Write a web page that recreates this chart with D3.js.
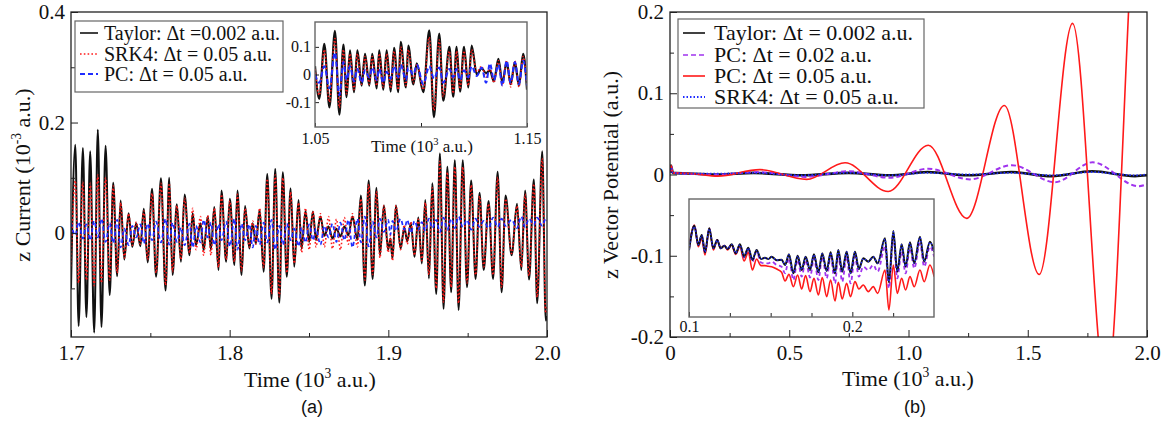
<!DOCTYPE html>
<html>
<head>
<meta charset="utf-8">
<script src="https://cdn.jsdelivr.net/npm/d3@7"></script>
<style>
  body { margin: 0; background: #fff; }
  svg { display: block; }
  text { font-family: "Liberation Serif", "DejaVu Serif", serif; fill: #111; }
  .panel-label { font-family: "Liberation Sans", Arial, sans-serif; }
</style>
</head>
<body>
<div id="chart"></div>
<script>
// ---- (a) z current, 1.7 - 2.0 (10^3 a.u.) ----
const aTime = [
  1.7000,1.7027,1.7048,1.7075,1.7097,1.7121,1.7146,1.7169,1.7192,1.7218,
  1.7244,1.7266,1.7291,1.7313,1.7336,1.7363,1.7386,1.7411,1.7437,1.7459,
  1.7483,1.7511,1.7536,1.7567,1.7596,1.7619,1.7640,1.7667,1.7693,1.7716,
  1.7747,1.7767,1.7788,1.7816,1.7836,1.7862,1.7882,1.7903,1.7930,1.7948,
  1.7978,1.8001,1.8030,1.8049,1.8075,1.8097,1.8124,1.8145,1.8165,1.8189,
  1.8214,1.8237,1.8264,1.8287,1.8313,1.8335,1.8360,1.8384,1.8407,1.8434,
  1.8453,1.8478,1.8501,1.8525,1.8544,1.8572,1.8597,1.8623,1.8648,1.8673,
  1.8698,1.8723,1.8748,1.8774,1.8805,1.8827,1.8852,1.8876,1.8901,1.8925,
  1.8947,1.8972,1.8999,1.9013,1.9026,1.9048,1.9077,1.9101,1.9119,1.9142,
  1.9165,1.9189,1.9211,1.9233,1.9256,1.9277,1.9302,1.9325,1.9348,1.9372,
  1.9396,1.9419,1.9443,1.9469,1.9496,1.9522,1.9550,1.9575,1.9601,1.9632,
  1.9660,1.9689,1.9714,1.9739,1.9777,1.9811,1.9838,1.9862,1.9887,1.9917,
  1.9938,1.9970,1.9992,2.0000
];
const aTaylor = [
  -0.100,0.160,-0.168,0.154,-0.152,0.148,-0.180,0.187,-0.170,0.158,
  -0.112,0.091,-0.078,0.059,-0.048,0.036,-0.025,0.018,-0.024,0.044,
  -0.053,0.080,-0.079,0.099,-0.104,0.100,-0.076,0.052,-0.052,0.070,
  -0.040,0.036,-0.022,0.018,-0.031,0.030,-0.030,0.047,-0.067,0.077,
  -0.052,0.062,-0.058,0.077,-0.076,0.049,-0.028,0.018,-0.019,0.042,
  -0.070,0.107,-0.119,0.116,-0.126,0.110,-0.079,0.081,-0.061,0.060,
  -0.028,0.040,-0.016,0.039,-0.013,0.030,-0.005,0.012,-0.010,0.008,
  -0.006,0.012,-0.004,0.030,-0.012,0.068,-0.095,0.095,-0.083,0.082,
  -0.040,0.050,-0.030,-0.010,-0.046,0.050,-0.028,0.010,-0.015,0.018,
  -0.043,0.028,-0.055,0.060,-0.082,0.090,-0.110,0.144,-0.137,0.120,
  -0.107,0.132,-0.139,0.132,-0.098,0.095,-0.083,0.073,-0.067,0.058,
  -0.083,0.111,-0.107,0.068,-0.040,0.053,-0.067,0.077,-0.084,0.097,
  -0.127,0.148,-0.158,-0.150
];
const aSRK4 = [
  -0.060,0.095,-0.090,0.092,-0.085,0.090,-0.095,0.105,-0.090,0.100,
  -0.085,0.085,-0.072,0.055,-0.045,0.035,-0.022,0.020,-0.020,0.040,
  -0.048,0.072,-0.072,0.090,-0.094,0.090,-0.070,0.050,-0.048,0.063,
  -0.036,0.045,-0.030,0.030,-0.040,0.032,-0.040,0.045,-0.062,0.070,
  -0.048,0.058,-0.052,0.070,-0.068,0.045,-0.025,0.022,-0.020,0.045,
  -0.062,0.098,-0.110,0.105,-0.115,0.100,-0.072,0.074,-0.055,0.055,
  -0.035,0.045,-0.030,0.040,-0.025,0.035,-0.025,0.030,-0.028,0.025,
  -0.030,0.028,-0.020,0.035,-0.025,0.062,-0.085,0.088,-0.075,0.075,
  -0.045,0.050,-0.035,-0.005,-0.050,0.050,-0.030,0.015,-0.020,0.020,
  -0.040,0.025,-0.050,0.055,-0.075,0.082,-0.100,0.130,-0.125,0.110,
  -0.098,0.120,-0.127,0.120,-0.090,0.087,-0.076,0.067,-0.061,0.053,
  -0.076,0.101,-0.098,0.062,-0.037,0.049,-0.061,0.070,-0.077,0.089,
  -0.116,0.135,-0.145,-0.130
];
const aPC = [
  0.018,-0.004,0.020,-0.010,0.016,-0.013,0.022,-0.008,0.026,-0.016,
  0.018,-0.018,0.024,-0.026,0.008,-0.022,0.013,-0.008,0.016,-0.019,
  0.017,-0.013,0.021,-0.017,0.026,-0.021,0.019,-0.016,0.010,-0.022,
  0.017,-0.026,0.013,-0.017,0.024,-0.008,0.019,-0.022,0.016,-0.013,
  0.021,-0.024,0.026,-0.030,0.017,-0.013,0.016,-0.026,0.013,-0.021,
  0.019,-0.017,0.024,-0.030,0.013,-0.021,0.017,-0.013,0.008,-0.024,
  0.010,-0.017,0.016,-0.013,0.008,-0.021,0.013,-0.008,0.017,-0.016,
  0.019,-0.013,0.024,-0.026,0.026,-0.017,0.030,-0.024,0.021,-0.008,
  0.026,0.002,0.024,-0.003,0.022,0.004,0.026,0.006,0.024,0.000,
  0.022,0.006,0.020,0.004,0.026,0.009,0.024,0.002,0.028,0.006,
  0.026,0.009,0.030,0.011,0.024,0.006,0.026,0.011,0.022,0.009,
  0.028,0.011,0.026,0.013,0.024,0.009,0.030,0.011,0.026,0.015,
  0.028,0.013,0.026,0.022
];

// inset of (a): 1.05 - 1.15
const aiTime = [
  1.0500,1.0520,1.0544,1.0568,1.0594,1.0615,1.0634,1.0649,1.0665,1.0684,
  1.0700,1.0720,1.0736,1.0756,1.0770,1.0791,1.0803,1.0822,1.0838,1.0857,
  1.0873,1.0893,1.0904,1.0929,1.0940,1.0964,1.0980,1.1011,1.1039,1.1061,
  1.1086,1.1105,1.1134,1.1152,1.1168,1.1184,1.1203,1.1223,1.1239,1.1263,
  1.1286,1.1307,1.1325,1.1344,1.1365,1.1384,1.1404,1.1423,1.1443,1.1462,
  1.1482,1.1500
];
const aiTaylor = [
  0.030,-0.088,0.111,-0.119,0.158,-0.145,0.108,-0.082,0.087,-0.064,
  0.087,-0.040,0.075,-0.040,0.075,-0.050,0.087,-0.055,0.087,-0.062,
  0.096,-0.064,0.118,-0.047,0.105,-0.036,0.040,-0.064,0.160,-0.155,
  0.148,-0.095,0.100,-0.080,0.100,-0.062,0.100,-0.047,0.105,0.000,
  0.022,0.005,0.015,-0.025,0.057,-0.030,0.045,-0.035,0.045,-0.040,
  0.075,-0.055
];
const aiSRK4 = [
  0.020,-0.075,0.090,-0.100,0.130,-0.120,0.090,-0.070,0.075,-0.055,
  0.075,-0.035,0.065,-0.035,0.065,-0.040,0.075,-0.045,0.075,-0.050,
  0.085,-0.055,0.100,-0.040,0.090,-0.030,0.035,-0.055,0.135,-0.130,
  0.125,-0.080,0.085,-0.068,0.085,-0.052,0.085,-0.040,0.090,0.010,
  0.030,-0.010,0.025,-0.030,0.050,-0.040,0.050,-0.045,0.050,-0.045,
  0.065,-0.045
];
const aiPC = [
  0.000,-0.030,0.030,-0.050,0.080,-0.075,0.045,-0.020,0.030,-0.025,
  0.020,-0.030,0.015,-0.010,0.025,-0.020,0.020,-0.030,0.010,-0.015,
  0.030,-0.010,0.035,-0.020,0.025,0.000,0.035,-0.035,0.030,-0.015,
  0.025,-0.030,0.020,-0.010,0.020,-0.020,0.015,-0.010,0.030,-0.005,
  0.025,-0.030,0.040,-0.020,0.035,-0.040,0.050,-0.030,0.045,-0.035,
  0.050,-0.040
];

// ---- (b) z vector potential, 0 - 2.0 (10^3 a.u.) ----
const bTaylorTime = [0,0.004,0.012,0.1,0.2,0.35,0.55,0.75,0.92,1.08,1.25,1.43,1.6,1.77,1.95,2.0];
const bTaylor     = [0.002,0.011,0.002,0.001,0.000,0.002,-0.001,0.002,-0.001,0.003,-0.001,0.003,-0.002,0.004,-0.002,-0.001];
const bSRK4       = [0.002,0.009,0.002,0.001,0.001,0.002,-0.001,0.002,-0.001,0.002,0.000,0.002,-0.001,0.003,-0.001,0.000];
const bPC02Time = [0,0.004,0.012,0.2,0.37,0.57,0.75,0.92,1.083,1.258,1.433,1.614,1.772,1.964,2.0];
const bPC02     = [0.002,0.011,0.002,0.000,0.003,-0.003,0.004,-0.004,0.007,-0.006,0.0115,-0.0095,0.015,-0.0144,-0.012];
const bPC05Time = [0,0.004,0.012,0.1,0.2,0.377,0.573,0.734,0.915,1.083,1.244,1.402,1.548,1.688,1.83,1.975,2.0];
const bPC05     = [0.002,0.011,0.002,0.001,-0.002,0.006,-0.006,0.0144,-0.021,0.036,-0.054,0.085,-0.123,0.186,-0.268,0.40,0.38];

// inset of (b): 0.1 - 0.25, values in 10^-3 a.u.
const biTime = [
  0.1000,0.1033,0.1057,0.1078,0.1098,0.1124,0.1149,0.1173,0.1194,0.1216,
  0.1237,0.1261,0.1286,0.1312,0.1337,0.1363,0.1388,0.1414,0.1441,0.1465,
  0.1486,0.1506,0.1537,0.1567,0.1588,0.1612,0.1639,0.1665,0.1690,0.1714,
  0.1741,0.1765,0.1792,0.1816,0.1843,0.1867,0.1894,0.1914,0.1938,0.1965,
  0.1989,0.2016,0.2040,0.2067,0.2098,0.2128,0.2155,0.2200,0.2224,0.2251,
  0.2275,0.2302,0.2326,0.2353,0.2379,0.2414,0.2440,0.2475,0.2501
];
const biTaylor = [
  0.70,2.16,1.00,1.60,0.56,2.00,0.80,1.30,0.80,0.96,
  0.76,1.04,0.50,1.04,0.30,0.84,0.10,0.70,0.16,0.24,
  0.16,0.30,0.08,0.12,-0.20,0.44,-0.70,0.36,-0.50,0.30,
  -0.50,0.44,-0.64,0.50,-0.56,0.56,-0.70,0.70,-0.60,0.60,
  -0.70,0.60,-0.44,0.20,0.00,0.30,-0.10,1.40,-1.24,1.84,
  -0.60,1.04,-0.30,1.16,-0.10,1.50,0.00,1.20,0.60
];
const biSRK4 = [
  0.72,2.10,1.02,1.58,0.58,1.96,0.82,1.28,0.82,0.94,
  0.78,1.02,0.52,1.02,0.32,0.82,0.12,0.68,0.18,0.22,
  0.18,0.28,0.10,0.10,-0.18,0.42,-0.66,0.34,-0.48,0.28,
  -0.48,0.42,-0.62,0.48,-0.54,0.54,-0.68,0.68,-0.58,0.58,
  -0.68,0.58,-0.42,0.18,0.02,0.28,-0.08,1.36,-1.20,1.80,
  -0.58,1.02,-0.28,1.12,-0.08,1.46,0.02,1.16,0.58
];
const biPC02 = [
  0.70,2.16,1.00,1.60,0.56,2.00,0.80,1.30,0.80,0.96,
  0.76,1.04,0.50,1.00,0.25,0.80,0.00,0.60,-0.05,-0.10,
  -0.10,0.00,-0.20,-0.30,-0.70,0.20,-1.10,0.10,-0.90,0.10,
  -0.95,0.20,-1.10,0.30,-1.00,0.30,-1.30,0.40,-1.20,0.30,
  -1.30,0.30,-0.90,-0.30,-0.50,-0.20,-0.60,0.90,-1.60,1.50,
  -1.00,0.60,-0.70,0.80,-0.40,1.10,-0.30,0.90,0.30
];
const biPC05 = [
  0.80,2.20,0.90,1.40,0.40,2.00,0.70,1.30,0.80,0.96,
  0.70,1.00,0.44,0.90,0.04,0.56,-0.50,0.16,-0.24,-0.24,
  -0.28,-0.30,-0.44,-0.64,-1.16,-0.76,-1.50,-0.80,-1.64,-0.84,
  -1.80,-1.00,-2.00,-0.96,-2.10,-1.10,-2.36,-1.24,-2.24,-1.30,
  -2.10,-1.20,-1.64,-1.40,-1.80,-1.50,-1.90,-0.50,-2.90,-0.20,
  -1.90,-1.00,-1.70,-0.90,-1.50,-0.50,-1.20,-0.20,-0.90
];

const W = 1170, H = 429;
const SERIF = "'Liberation Serif', 'DejaVu Serif', serif";
const svg = d3.select("#chart").append("svg")
  .attr("width", W).attr("height", H);

const BLACK = "#111", RED = "#ff1a1a", BLUE = "#1f2cff", PURPLE = "#a033ee";

let clipId = 0;
function clipRect(x0, y0, w, h) {
  const id = "clip" + (clipId++);
  svg.append("clipPath").attr("id", id)
    .append("rect").attr("x", x0).attr("y", y0).attr("width", w).attr("height", h);
  return "url(#" + id + ")";
}

function drawLine(g, x, y, times, vals, st) {
  const line = d3.line()
    .x((d, i) => x(times[i]))
    .y(d => y(d))
    .curve(d3.curveMonotoneX);
  g.append("path").datum(vals)
    .attr("d", line)
    .attr("fill", "none")
    .attr("stroke", st.color)
    .attr("stroke-width", st.width)
    .attr("stroke-dasharray", st.dash || null)
    .attr("stroke-linejoin", "round");
}

// inward ticks with labels
function axes(g, x, y, o) {
  const [x0, x1] = x.range();
  const [y0, y1] = y.range();
  g.append("g").attr("transform", `translate(0,${y0})`)
    .call(d3.axisBottom(x).tickValues(o.xMinor).tickSize(-o.minor).tickFormat(""))
    .call(a => a.select(".domain").remove());
  g.append("g").attr("transform", `translate(${x0},0)`)
    .call(d3.axisLeft(y).tickValues(o.yMinor).tickSize(-o.minor).tickFormat(""))
    .call(a => a.select(".domain").remove());
  g.append("g").attr("transform", `translate(0,${y0})`)
    .call(d3.axisBottom(x).tickValues(o.xMajor).tickSize(-o.major)
      .tickPadding(o.xPad).tickFormat(o.xFmt))
    .call(a => a.select(".domain").remove());
  g.append("g").attr("transform", `translate(${x0},0)`)
    .call(d3.axisLeft(y).tickValues(o.yMajor).tickSize(-o.major)
      .tickPadding(o.yPad).tickFormat(o.yFmt))
    .call(a => a.select(".domain").remove());
  g.selectAll(".tick text")
    .style("font-family", SERIF).style("font-size", o.font + "px").style("fill", "#111");
  g.selectAll(".tick line").attr("stroke", "#222").attr("stroke-width", 1);
  g.append("rect")
    .attr("x", x0).attr("y", y1).attr("width", x1 - x0).attr("height", y0 - y1)
    .attr("fill", "none").attr("stroke", o.frame || "#222").attr("stroke-width", o.frameW || 1.3);
}

function title(x, y, pre, sup, post, size, rotate) {
  const t = svg.append("text")
    .style("font-size", size + "px")
    .attr("text-anchor", "middle")
    .attr("transform", rotate ? `translate(${x},${y}) rotate(-90)` : `translate(${x},${y})`);
  t.append("tspan").text(pre);
  t.append("tspan").attr("dy", -size * 0.42).style("font-size", (size * 0.62) + "px").text(sup);
  t.append("tspan").attr("dy", size * 0.42).text(post);
}

// legend text may be stretched horizontally (sx) to match the reference width
function legend(x0, y0, w, h, rows, size, sx0, sx1, tx, sx) {
  const g = svg.append("g");
  g.append("rect").attr("x", x0).attr("y", y0).attr("width", w).attr("height", h)
    .attr("fill", "#fff").attr("stroke", "#666").attr("stroke-width", 1.2);
  rows.forEach(r => {
    g.append("line").attr("x1", sx0).attr("x2", sx1).attr("y1", r.y).attr("y2", r.y)
      .attr("stroke", r.color).attr("stroke-width", r.width)
      .attr("stroke-dasharray", r.dash || null);
    g.append("text")
      .attr("transform", `translate(${tx},${r.y}) scale(${sx || 1},1)`)
      .attr("dy", "0.35em")
      .style("font-size", size + "px").text(r.label);
  });
}

const fmt1 = d => d === 0 ? "0" : d.toFixed(1);

// ================= panel (a) =================
const ax = d3.scaleLinear().domain([1.7, 2.0]).range([71, 547]);
const ay = d3.scaleLinear().domain([-0.188, 0.4]).range([337, 12]);
const ga = svg.append("g");
const gaLines = ga.append("g").attr("clip-path", clipRect(71, 12, 476, 325));
drawLine(gaLines, ax, ay, aTime, aTaylor, { color: BLACK, width: 2 });
drawLine(gaLines, ax, ay, aTime, aSRK4, { color: RED, width: 1.6, dash: "1.6,2.2" });
drawLine(gaLines, ax, ay, aTime, aPC, { color: BLUE, width: 1.7, dash: "4,3" });
axes(ga, ax, ay, {
  xMajor: [1.7, 1.8, 1.9, 2.0], xMinor: [1.75, 1.85, 1.95],
  yMajor: [0, 0.2, 0.4], yMinor: [-0.1, 0.1, 0.3],
  major: 7, minor: 4, xPad: 8, yPad: 6, font: 21,
  xFmt: d => d.toFixed(1), yFmt: fmt1
});
title(310, 387, "Time (10", "3", " a.u.)", 22, false);
title(30, 175, "z Current (10", "-3", " a.u.)", 22, true);
legend(75, 21, 208, 71, [
  { y: 33, color: BLACK, width: 1.6, label: "Taylor: \u0394t =0.002 a.u." },
  { y: 54, color: RED, width: 1.6, dash: "1.6,2.2", label: "SRK4: \u0394t = 0.05 a.u." },
  { y: 74, color: BLUE, width: 1.8, dash: "5,3", label: "PC: \u0394t = 0.05 a.u." }
], 20, 80, 98, 104, 1);

// inset (a)
const aix = d3.scaleLinear().domain([1.05, 1.15]).range([315, 527]);
const aiy = d3.scaleLinear().domain([-0.19, 0.19]).range([127, 22]);
const gai = svg.append("g");
gai.append("rect").attr("x", 315).attr("y", 22).attr("width", 212).attr("height", 105).attr("fill", "#fff");
const gaiLines = gai.append("g").attr("clip-path", clipRect(315, 22, 212, 105));
drawLine(gaiLines, aix, aiy, aiTime, aiTaylor, { color: BLACK, width: 2.2 });
drawLine(gaiLines, aix, aiy, aiTime, aiSRK4, { color: RED, width: 1.5, dash: "1.5,2" });
drawLine(gaiLines, aix, aiy, aiTime, aiPC, { color: BLUE, width: 2, dash: "5,3" });
axes(gai, aix, aiy, {
  xMajor: [1.05, 1.15], xMinor: [1.10],
  yMajor: [-0.1, 0, 0.1], yMinor: [],
  major: 4, minor: 4, xPad: 6, yPad: 4, font: 16,
  xFmt: d => d.toFixed(2), yFmt: fmt1, frame: "#666", frameW: 1.4
});
title(422, 152, "Time (10", "3", " a.u.)", 17, false);

// ================= panel (b) =================
const bx = d3.scaleLinear().domain([0, 2.0]).range([670, 1147]);
const by = d3.scaleLinear().domain([-0.2, 0.2]).range([337, 12]);
const gb = svg.append("g");
const gbLines = gb.append("g").attr("clip-path", clipRect(670, 12, 477, 325));
drawLine(gbLines, bx, by, bTaylorTime, bTaylor, { color: BLACK, width: 2.6 });
drawLine(gbLines, bx, by, bPC02Time, bPC02, { color: PURPLE, width: 2, dash: "5,3" });
drawLine(gbLines, bx, by, bPC05Time, bPC05, { color: RED, width: 1.6 });
drawLine(gbLines, bx, by, bTaylorTime, bSRK4, { color: BLUE, width: 1.8, dash: "1.5,2" });
axes(gb, bx, by, {
  xMajor: [0, 0.5, 1.0, 1.5, 2.0], xMinor: [0.25, 0.75, 1.25, 1.75],
  yMajor: [-0.2, -0.1, 0, 0.1, 0.2], yMinor: [-0.15, -0.05, 0.05, 0.15],
  major: 7, minor: 4, xPad: 8, yPad: 6, font: 21,
  xFmt: fmt1, yFmt: fmt1
});
title(908, 386, "Time (10", "3", " a.u.)", 22, false);
legend(678, 19, 246, 89, [
  { y: 33, color: BLACK, width: 1.6, label: "Taylor: \u0394t = 0.002 a.u." },
  { y: 55, color: PURPLE, width: 1.6, dash: "5,3", label: "PC: \u0394t = 0.02 a.u." },
  { y: 76, color: RED, width: 1.6, label: "PC: \u0394t = 0.05 a.u." },
  { y: 97, color: BLUE, width: 1.8, dash: "1.5,2", label: "SRK4: \u0394t = 0.05 a.u." }
], 20, 683, 705, 714, 1.1);
svg.append("text").style("font-size", "22px").attr("text-anchor", "middle")
  .attr("transform", "translate(618,175) rotate(-90)")
  .text("z Vector Potential (a.u.)");

// inset (b)
const bix = d3.scaleLinear().domain([0.1, 0.25]).range([689, 934]);
const biy = d3.scaleLinear().domain([-3.32, 3.76]).range([317, 199]);
const gbi = svg.append("g");
gbi.append("rect").attr("x", 689).attr("y", 199).attr("width", 245).attr("height", 118).attr("fill", "#fff");
const gbiLines = gbi.append("g").attr("clip-path", clipRect(689, 199, 245, 118));
drawLine(gbiLines, bix, biy, biTime, biPC05, { color: RED, width: 1.6 });
drawLine(gbiLines, bix, biy, biTime, biPC02, { color: PURPLE, width: 1.8, dash: "4,3" });
drawLine(gbiLines, bix, biy, biTime, biTaylor, { color: BLACK, width: 2 });
drawLine(gbiLines, bix, biy, biTime, biSRK4, { color: BLUE, width: 1.3, dash: "1.5,2" });
axes(gbi, bix, biy, {
  xMajor: [0.1, 0.2], xMinor: [0.125, 0.15, 0.175, 0.225],
  yMajor: [], yMinor: [],
  major: 5, minor: 4, xPad: 4, yPad: 4, font: 16,
  xFmt: d => d.toFixed(1), yFmt: fmt1, frame: "#666", frameW: 1.4
});

// panel labels
svg.append("text").attr("class", "panel-label").attr("x", 312).attr("y", 413)
  .attr("text-anchor", "middle").style("font-size", "18px").text("(a)");
svg.append("text").attr("class", "panel-label").attr("x", 915).attr("y", 413)
  .attr("text-anchor", "middle").style("font-size", "18px").text("(b)");
</script>
</body>
</html>
